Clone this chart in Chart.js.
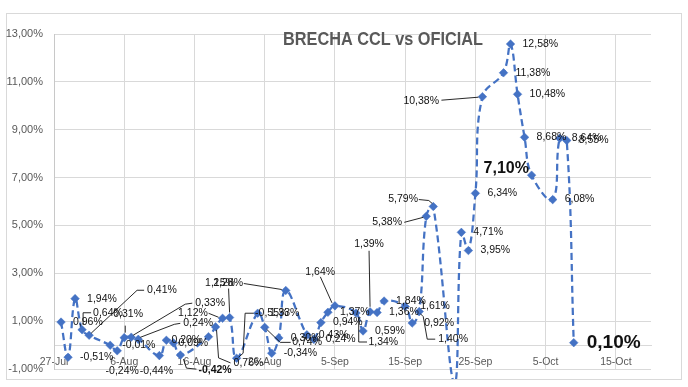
<!DOCTYPE html>
<html><head><meta charset="utf-8">
<script src="https://cdn.jsdelivr.net/npm/chart.js@4/dist/chart.umd.min.js"></script>
<style>html,body{margin:0;padding:0;background:#fff;overflow:hidden}</style>
</head><body>
<canvas id="c" width="688" height="387"></canvas>
<script>
// ---------- data ----------
const chartTitle = 'BRECHA CCL vs OFICIAL';
const baseDate = [2025, 7, 27];           // x axis origin (27-Jul)
const axisEndDays = 85;                   // x axis end (20-Oct)
const xTickStepDays = 10;
const monthNames = ['Jan','Feb','Mar','Apr','May','Jun','Jul','Aug','Sep','Oct','Nov','Dec'];
const yMin = -1, yMax = 13, yStep = 2;

const dates = [
 '2025-07-28','2025-07-29','2025-07-30','2025-07-31','2025-08-01',
 '2025-08-04','2025-08-05','2025-08-06','2025-08-07','2025-08-08',
 '2025-08-11','2025-08-12','2025-08-13','2025-08-14',
 '2025-08-18','2025-08-19','2025-08-20','2025-08-21','2025-08-22',
 '2025-08-25','2025-08-26','2025-08-27','2025-08-28','2025-08-29',
 '2025-09-01','2025-09-02','2025-09-03','2025-09-04','2025-09-05',
 '2025-09-08','2025-09-09','2025-09-10','2025-09-11','2025-09-12',
 '2025-09-15','2025-09-16','2025-09-17','2025-09-18','2025-09-19',
 '2025-09-22','2025-09-23','2025-09-24','2025-09-25','2025-09-26',
 '2025-09-29','2025-09-30','2025-10-01','2025-10-02','2025-10-03',
 '2025-10-06','2025-10-07','2025-10-08','2025-10-09'
];
const brecha = [
 0.96,-0.51,1.94,0.64,0.41,
 -0.01,-0.24,0.31,0.33,0.24,
 -0.44,0.20,0.09,-0.42,
 0.35,0.76,1.12,1.15,-0.55,
 1.33,0.74,-0.34,0.30,2.28,
 0.43,0.24,0.94,1.37,1.64,
 1.34,0.59,1.39,1.36,1.84,
 1.61,0.92,1.40,5.38,5.79,
 -1.60,4.71,3.95,6.34,10.38,
 11.38,12.58,10.48,8.68,7.10,
 6.08,8.64,8.55,0.10
];
const hiddenLabels = [14, 39];

// ---------- helpers ----------
const DAY = 864e5;
const base = Date.UTC(baseDate[0], baseDate[1]-1, baseDate[2]);
function dayOffset(s){ const p = s.split('-').map(Number); return (Date.UTC(p[0],p[1]-1,p[2]) - base)/DAY; }
function fmtDate(v){ const d = new Date(base + v*DAY); return d.getUTCDate() + '-' + monthNames[d.getUTCMonth()]; }
function fmtPct(v){ return v.toFixed(2).replace('.', ',') + '%'; }

const FONT = '"Liberation Sans", Arial, sans-serif';
const BLUE = '#4472C4';

// label placement (relative to the point, pixels) - layout only
const labelLayout = {
 3:{dx:11,dy:-17,leader:[[9,-17],[1,-17],[1,-5]]},
 4:{dx:58,dy:-45,leader:[[55,-45],[48,-45],[2,-2]]},
 6:{dx:5,dy:20,align:'center'},
 7:{dx:-11,dy:-24,leader:[[1,-12],[1,-5]]},
 8:{dx:64,dy:-34,leader:[[61,-34],[54,-33],[2,-2]]},
 9:{dx:45,dy:-16,leader:[[42,-16],[36,-15],[2,-2]]},
 10:{dx:-3,dy:15.5,align:'center'},
 11:{dx:5,dy:0},
 12:{dx:5,dy:0},
 13:{dx:18,dy:15,bold:true,leader:[[3,4],[6,13],[16,14]]},
 15:{dx:18,dy:36,leader:[[1,3],[3,31],[15,36]]},
 16:{dx:-44.5,dy:-5,leader:[[-14,-5],[-4,-1]]},
 17:{dx:-24.5,dy:-34,leader:[[-1,-29],[0,-5]]},
 18:{dx:18.5,dy:-45,leader:[[17,-45],[8.5,-45],[6.5,-5],[2,-1]]},
 20:{dx:27.5,dy:15,leader:[[2,2],[15.5,15],[26,15]]},
 23:{dx:-72.5,dy:-7,leader:[[-42,-7],[-4,-1]]},
 28:{dx:-29.6,dy:-34,leader:[[-14.6,-29],[-3,-3]]},
 29:{dx:12.4,dy:29,leader:[[11,29],[2.7,29],[2.7,4]]},
 31:{dx:-1,dy:-67.5,align:'center',leader:[[-1,-61],[0,-5]]},
 34:{dx:15,dy:0},
 36:{dx:19,dy:27.6,leader:[[16,27.6],[8,27.6],[4,5],[1,2]]},
 37:{dx:-54,dy:6,leader:[[-22,6],[-3,1]]},
 38:{dx:-45,dy:-7,leader:[[-14.5,-7],[-4.5,-6],[-1,-3]]},
 43:{dx:-79,dy:4,leader:[[-41,3.5],[-4,0.5]]},
 48:{dx:-48,dy:-6.5,size:16,bold:true},
 52:{dx:13,dy:0.5,size:19,bold:true}
};

const framePlugin = {
 id:'frame',
 beforeDraw(chart){
  const ctx = chart.ctx;
  ctx.save();
  ctx.fillStyle = '#fff';
  ctx.fillRect(0,0,chart.width,chart.height);
  ctx.strokeStyle = '#d9d9d9';
  ctx.lineWidth = 1;
  ctx.strokeRect(6.5,13.5,675,366);
  ctx.restore();
 },
 afterDraw(chart){
  const ctx = chart.ctx;
  ctx.save();
  ctx.font = 'bold 18px ' + FONT;
  ctx.fillStyle = '#595959';
  ctx.textBaseline = 'alphabetic';
  const w = ctx.measureText(chartTitle).width;
  const target = 200, cx = 383;
  ctx.translate(cx - target/2, 45);
  ctx.scale(target / w, 1);
  ctx.fillText(chartTitle, 0, 0);
  ctx.restore();
 }
};

const labelPlugin = {
 id:'pointLabels',
 afterDatasetsDraw(chart){
  const ctx = chart.ctx;
  const pts = chart.getDatasetMeta(0).data;
  ctx.save();
  pts.forEach((p, i) => {
   if (hiddenLabels.includes(i)) return;
   const L = labelLayout[i] || {dx:12, dy:0};
   const size = L.size || 10.5;
   ctx.font = (L.bold ? 'bold ' : '') + size + 'px ' + FONT;
   ctx.fillStyle = '#111';
   ctx.textBaseline = 'middle';
   ctx.textAlign = L.align === 'center' ? 'center' : 'left';
   ctx.fillText(fmtPct(brecha[i]), p.x + L.dx, p.y + L.dy);
   if (L.leader){
    ctx.beginPath();
    ctx.strokeStyle = '#111';
    ctx.lineWidth = 0.9;
    L.leader.forEach((q, k) => {
     const x = p.x + q[0], y = p.y + q[1];
     if (k === 0) ctx.moveTo(x, y); else ctx.lineTo(x, y);
    });
    ctx.stroke();
   }
  });
  ctx.restore();
 }
};

new Chart(document.getElementById('c'), {
 type:'line',
 data:{
  datasets:[{
   data: dates.map((d,i) => ({x: dayOffset(d), y: brecha[i]})),
   borderColor: BLUE,
   backgroundColor: BLUE,
   borderWidth: 2.25,
   borderDash: [7,4],
   tension: 0.4,
   pointStyle: 'rectRot',
   pointRadius: 4.3,
   pointBorderWidth: 0.5,
   pointBackgroundColor: BLUE,
   pointBorderColor: BLUE,
   clip: {left:5, top:5, right:5, bottom:10},
   fill: false
  }]
 },
 options:{
  responsive:false,
  animation:false,
  events:[],
  devicePixelRatio:1,
  elements:{line:{capBezierPoints:false}},
  layout:{padding:{left:0, top:34, right:37, bottom:18}},
  plugins:{legend:{display:false}, title:{display:false}, tooltip:{enabled:false}},
  scales:{
   x:{
    type:'linear', min:0, max:axisEndDays,
    position:{y:0},
    afterFit(s){ s.height = 0; },
    grid:{color:'#d9d9d9', drawTicks:false},
    border:{color:'#d9d9d9'},
    ticks:{stepSize:xTickStepDays, includeBounds:false, autoSkip:false, maxRotation:0,
           padding:11, color:'#595959', font:{family:FONT, size:10.5},
           callback:v => fmtDate(v)}
   },
   y:{
    min:yMin, max:yMax,
    afterFit(s){ s.width = 54; },
    grid:{color:'#d9d9d9', drawTicks:false},
    border:{color:'#c8c8c8'},
    ticks:{stepSize:yStep, padding:11, color:'#595959', font:{family:FONT, size:11},
           callback:v => fmtPct(v)}
   }
  }
 },
 plugins:[framePlugin, labelPlugin]
});
</script>
</body></html>
